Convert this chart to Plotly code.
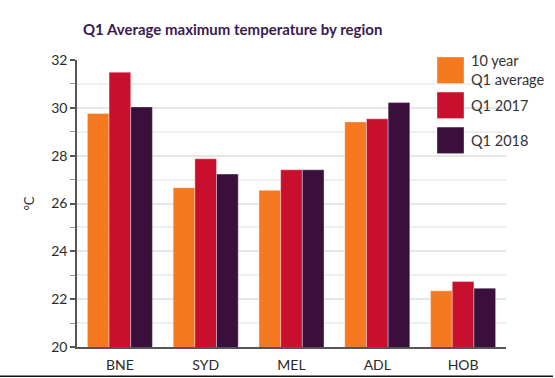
import plotly.graph_objects as go

regions = ["BNE", "SYD", "MEL", "ADL", "HOB"]
avg_10yr = [29.76, 26.66, 26.55, 29.41, 22.35]
q1_2017 = [31.49, 27.87, 27.41, 29.54, 22.74]
q1_2018 = [30.04, 27.23, 27.41, 30.22, 22.46]
series_names = ["10 year<br>Q1 average", "Q1 2017", "Q1 2018"]
colors = ["#F47920", "#C8102E", "#3A0F3C"]
y_ticks = [20, 22, 24, 26, 28, 30, 32]

W, H = 555, 378
PL, PR, PT, PB = 77, 506, 60, 346.7  # plot area in page pixels
PW, PH = PR - PL, PB - PT

fig = go.Figure()
for name, vals, col in zip(series_names, [avg_10yr, q1_2017, q1_2018], colors):
    fig.add_trace(go.Bar(
        x=regions, y=vals, name=name,
        marker=dict(color=col, line=dict(color="rgba(255,255,255,0.6)", width=0.6)),
        showlegend=False,
    ))

font_family = "Lato, 'DejaVu Sans', sans-serif"

fig.update_layout(
    width=W, height=H,
    margin=dict(l=PL, r=W - PR, t=PT, b=H - PB, pad=0),
    paper_bgcolor="white", plot_bgcolor="white",
    barmode="group", bargap=0.242, bargroupgap=0,
    font=dict(family=font_family, color="#333333", size=13),
    title=dict(
        text="<b>Q1 Average maximum temperature by region</b>",
        x=83 / W, xanchor="left", y=1 - 30 / H, yanchor="middle",
        font=dict(size=15, color="#3A1A4E", family=font_family),
    ),
    xaxis=dict(
        automargin=False,
        showline=True, linecolor="#555555", linewidth=1.5,
        ticks="", ticklabelstandoff=4, tickfont=dict(size=14, color="#2A2A2A"),
        showgrid=False,
    ),
    yaxis=dict(
        automargin=False,
        range=[20, 32], tickvals=y_ticks,
        showline=True, linecolor="#555555", linewidth=1.5,
        ticks="outside", ticklen=5, tickcolor="#555555", tickwidth=1.5,
        showgrid=True, gridcolor="#E6E6E6", gridwidth=1.5,
        minor=dict(dtick=1, showgrid=True, gridcolor="#EFEFEF", gridwidth=1.5,
                   ticks="outside", ticklen=5, tickcolor="#999999", tickwidth=1),
        zeroline=False,
        tickfont=dict(size=14, color="#2A2A2A"),
        title=dict(text="°C", standoff=14, font=dict(size=13, color="#333333")),
    ),
)

# white background behind custom legend (hides gridlines)
fig.add_shape(type="rect", xref="paper", yref="paper",
              x0=(430 - PL) / PW, x1=1.2, y0=(PB - 160) / PH, y1=1.05,
              fillcolor="white", line=dict(width=0), layer="below")

# custom legend
legend_tops = [57, 92, 127]
for name, col, top in zip(series_names, colors, legend_tops):
    x0 = (437 - PL) / PW
    x1 = (464 - PL) / PW
    y1 = (PB - top) / PH
    y0 = (PB - (top + 26.5)) / PH
    fig.add_shape(type="rect", xref="paper", yref="paper",
                  x0=x0, x1=x1, y0=y0, y1=y1,
                  fillcolor=col, line=dict(color="rgba(255,255,255,0.6)", width=0.6))
    fig.add_annotation(xref="paper", yref="paper", x=(469 - PL) / PW,
                       y=(y0 + y1) / 2, text=name, showarrow=False,
                       xanchor="left", yanchor="middle", align="left",
                       font=dict(size=14.5, color="#333333", family=font_family))

# bottom frame line
yl = -(376 - PB) / PH
fig.add_shape(type="line", xref="paper", yref="paper",
              x0=-PL / PW, x1=(553 - PL) / PW, y0=yl, y1=yl,
              line=dict(color="#111111", width=1.5))

fig.write_html("out.html",
               config={"displayModeBar": False},
               post_script="document.body.style.margin='0';document.documentElement.style.overflow='hidden';")
